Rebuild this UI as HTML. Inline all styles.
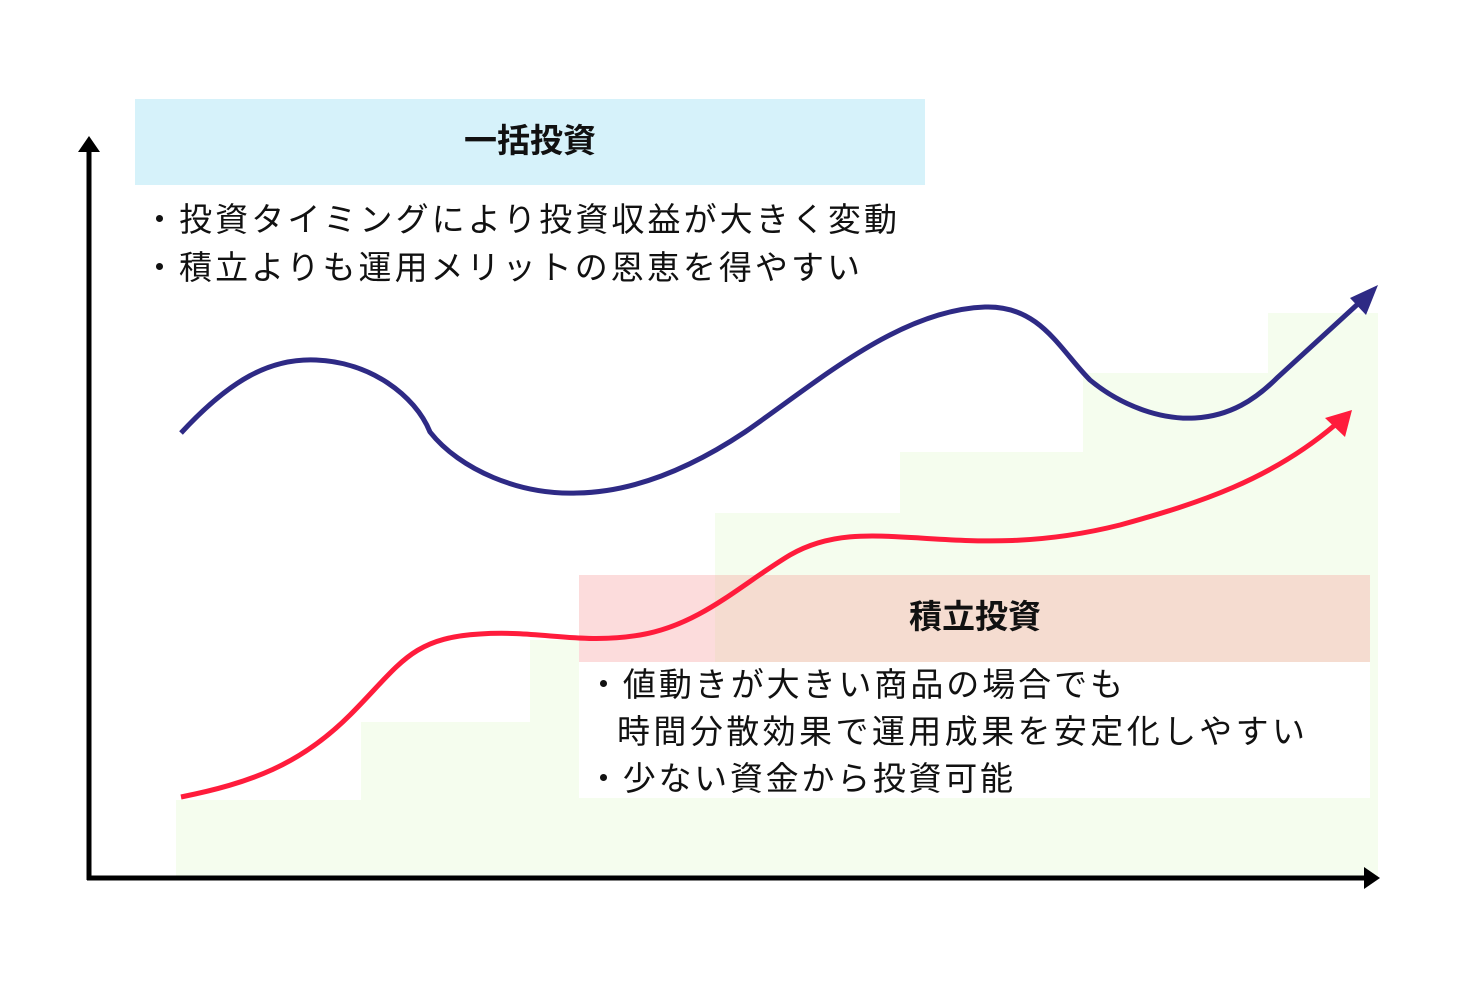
<!DOCTYPE html>
<html><head><meta charset="utf-8"><style>
html,body{margin:0;padding:0;background:#fff}
svg{display:block}
text{font-family:"Liberation Sans","Noto Sans CJK JP",sans-serif;fill:#111}
</style></head><body>
<svg width="1478" height="983" viewBox="0 0 1478 983" xmlns="http://www.w3.org/2000/svg">
<g fill="#f5fdee">
<rect x="176" y="800" width="186" height="78"/>
<rect x="361" y="722" width="185" height="156"/>
<rect x="530" y="640" width="186" height="238"/>
<rect x="715" y="513" width="186" height="365"/>
<rect x="900" y="452" width="184" height="426"/>
<rect x="1083" y="373" width="186" height="505"/>
<rect x="1268" y="313" width="110" height="565"/>
</g>
<rect x="135" y="99" width="790" height="86" fill="#d6f2fa"/>
<text x="530" y="152" font-size="33" font-weight="bold" text-anchor="middle">一括投資</text>
<text x="143" y="231" font-size="33" textLength="754" lengthAdjust="spacing">・投資タイミングにより投資収益が大きく変動</text>
<text x="143" y="279" font-size="33" textLength="717" lengthAdjust="spacing">・積立よりも運用メリットの恩恵を得やすい</text>
<rect x="579" y="575" width="791" height="87" fill="#f5dcd0"/>
<rect x="579" y="575" width="136" height="87" fill="#fcdcdc"/>
<rect x="579" y="662" width="791" height="136" fill="#fff"/>
<text x="975" y="628" font-size="33" font-weight="bold" text-anchor="middle">積立投資</text>
<text x="587" y="696" font-size="33" textLength="536" lengthAdjust="spacing">・値動きが大きい商品の場合でも</text>
<text x="617" y="743" font-size="33" textLength="688" lengthAdjust="spacing">時間分散効果で運用成果を安定化しやすい</text>
<text x="587" y="790" font-size="33" textLength="426" lengthAdjust="spacing">・少ない資金から投資可能</text>
<path d="M181,433 C230,380 270,358 316,360 C370,362 415,395 430,432 C460,470 520,495 577,493 C640,492 700,462 745,432 C820,380 900,310 985,307 C1040,305 1060,350 1090,380 C1120,405 1160,420 1195,418 C1230,416 1255,400 1278,377 L1360,302" fill="none" stroke="#2e2a85" stroke-width="5"/>
<polygon points="1378,285 1366,315 1350,298" fill="#2e2a85"/>
<path d="M181,797 C250,783 300,765 350,715 C400,665 410,638 480,634 C540,630 580,645 640,635 C700,625 740,585 790,555 C830,532 870,535 920,538 C980,542 1040,545 1120,525 C1200,503 1270,480 1335,425" fill="none" stroke="#ff1c3c" stroke-width="5"/>
<polygon points="1352,410 1345,437 1325,418" fill="#ff1c3c"/>
<line x1="89" y1="148" x2="89" y2="880" stroke="#000" stroke-width="5"/>
<polygon points="89,136 78,152 100,152" fill="#000"/>
<line x1="87" y1="878" x2="1368" y2="878" stroke="#000" stroke-width="5"/>
<polygon points="1380,878 1364,867 1364,889" fill="#000"/>
</svg>
</body></html>
